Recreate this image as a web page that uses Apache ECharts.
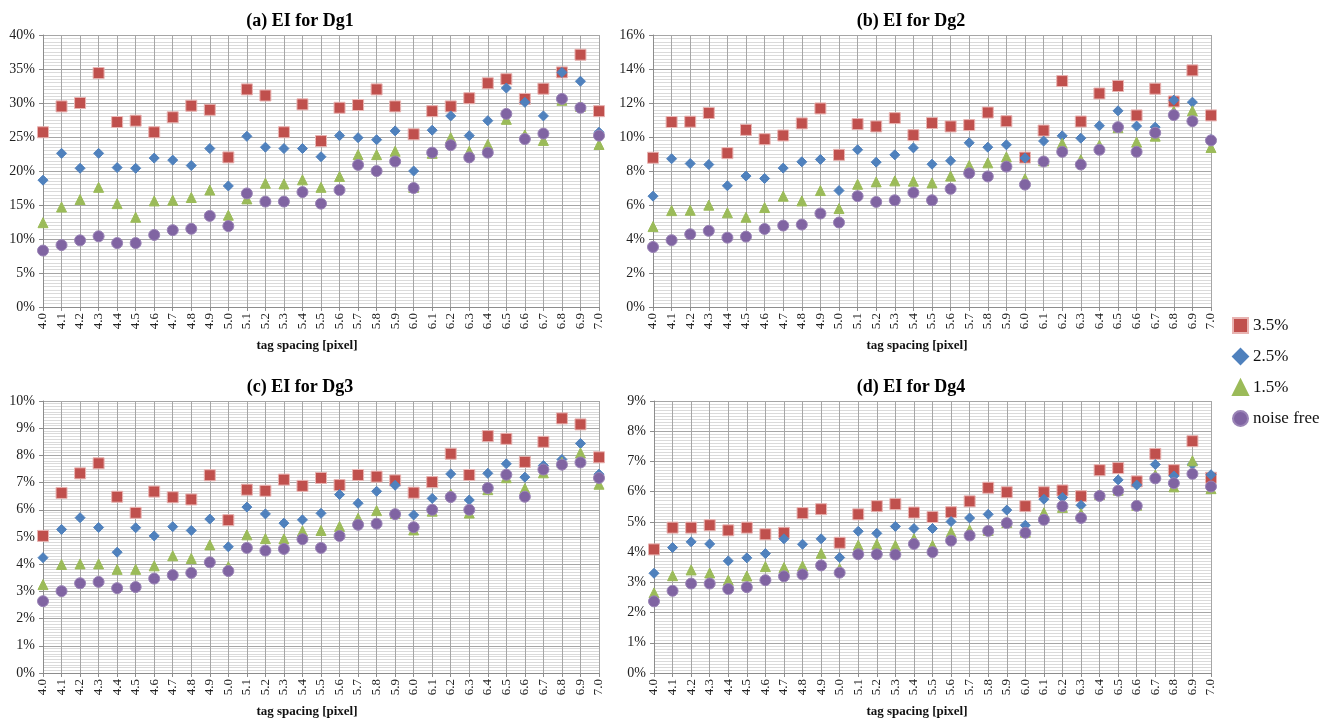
<!DOCTYPE html>
<html>
<head>
<meta charset="utf-8">
<script src="https://cdn.jsdelivr.net/npm/echarts@6/dist/echarts.min.js"></script>
<style>
html,body{margin:0;padding:0;background:#fff;}
#chart{width:1327px;height:720px;}
</style>
</head>
<body>
<div id="chart"></div>
<script>
const categories = ['4.0','4.1','4.2','4.3','4.4','4.5','4.6','4.7','4.8','4.9','5.0','5.1','5.2','5.3','5.4','5.5','5.6','5.7','5.8','5.9','6.0','6.1','6.2','6.3','6.4','6.5','6.6','6.7','6.8','6.9','7.0'];
const seriesNames = ['3.5%','2.5%','1.5%','noise free'];
const panelTitles = ['(a) EI for Dg1','(b) EI for Dg2','(c) EI for Dg3','(d) EI for Dg4'];
const xAxisName = 'tag spacing [pixel]';

// Panel (a) Dg1
const a35 = [25.7,29.5,30.0,34.4,27.2,27.4,25.7,27.9,29.6,29.0,22.0,32.0,31.1,25.7,29.8,24.4,29.3,29.7,32.0,29.5,25.4,28.8,29.5,30.7,32.9,33.5,30.6,32.1,34.5,37.1,28.8];
const a25 = [18.65,22.6,20.4,22.6,20.5,20.4,21.9,21.6,20.8,23.3,17.8,25.1,23.5,23.3,23.3,22.1,25.2,24.9,24.6,25.9,20.0,26.0,28.1,25.2,27.4,32.2,30.1,28.1,34.5,33.2,25.7];
const a15 = [12.4,14.7,15.8,17.6,15.2,13.2,15.6,15.7,16.1,17.2,13.5,15.9,18.2,18.1,18.7,17.6,19.2,22.4,22.4,22.9,17.6,22.6,24.9,22.9,23.9,27.6,25.3,24.5,30.4,29.5,23.9];
const a0 = [8.3,9.1,9.8,10.4,9.4,9.4,10.6,11.3,11.5,13.4,11.9,16.7,15.5,15.5,16.9,15.2,17.2,20.9,20.0,21.4,17.5,22.7,23.8,22.0,22.7,28.4,24.7,25.5,30.6,29.3,25.2];

// Panel (b) Dg2
const b35 = [8.78,10.88,10.9,11.41,9.05,10.42,9.87,10.09,10.8,11.68,8.95,10.76,10.62,11.11,10.11,10.82,10.62,10.7,11.44,10.93,8.79,10.38,13.29,10.91,12.56,13.0,11.27,12.84,12.09,13.92,11.27];
const b25 = [6.52,8.72,8.44,8.38,7.13,7.7,7.56,8.17,8.54,8.68,6.85,9.25,8.52,8.95,9.36,8.4,8.6,9.66,9.4,9.54,8.77,9.76,10.07,9.93,10.66,11.54,10.64,10.58,12.17,12.05,9.85];
const b15 = [4.73,5.67,5.69,5.99,5.54,5.28,5.85,6.52,6.24,6.85,5.79,7.22,7.36,7.42,7.4,7.3,7.7,8.32,8.48,8.83,7.54,8.6,9.62,8.66,9.52,10.55,9.7,10.05,11.52,11.54,9.38];
const b0 = [3.53,3.93,4.28,4.48,4.08,4.14,4.59,4.79,4.85,5.5,4.97,6.52,6.18,6.28,6.73,6.28,6.95,7.87,7.68,8.26,7.2,8.56,9.13,8.38,9.25,10.58,9.13,10.25,11.29,10.93,9.8];

// Panel (c) Dg3
const c35 = [5.04,6.62,7.34,7.71,6.48,5.89,6.67,6.46,6.38,7.27,5.62,6.74,6.70,7.11,6.88,7.17,6.91,7.28,7.22,7.08,6.63,7.02,8.06,7.28,8.71,8.61,7.76,8.50,9.36,9.14,7.93];
const c25 = [4.24,5.28,5.71,5.35,4.44,5.34,5.04,5.38,5.24,5.66,4.64,6.10,5.85,5.51,5.63,5.87,6.56,6.24,6.68,6.90,5.81,6.42,7.32,6.36,7.34,7.69,7.20,7.63,7.85,8.44,7.31];
const c15 = [3.25,3.99,4.01,4.01,3.81,3.81,3.94,4.31,4.21,4.71,3.91,5.08,4.94,4.93,5.22,5.24,5.39,5.69,5.97,5.86,5.26,5.95,6.58,5.88,6.74,7.18,6.78,7.36,7.75,8.09,6.94];
const c0 = [2.64,3.01,3.30,3.35,3.12,3.16,3.47,3.60,3.68,4.07,3.75,4.60,4.50,4.56,4.92,4.60,5.04,5.45,5.49,5.84,5.36,6.00,6.47,6.00,6.80,7.29,6.48,7.48,7.66,7.74,7.17];

// Panel (d) Dg4
const d35 = [4.09,4.81,4.81,4.89,4.72,4.81,4.59,4.64,5.29,5.42,4.31,5.25,5.52,5.59,5.31,5.16,5.32,5.68,6.13,5.98,5.52,5.98,6.04,5.85,6.71,6.78,6.34,7.25,6.71,7.67,6.46];
const d25 = [3.30,4.15,4.34,4.27,3.71,3.81,3.95,4.44,4.26,4.44,3.82,4.69,4.62,4.85,4.78,4.78,5.01,5.13,5.25,5.39,4.89,5.75,5.81,5.55,5.88,6.39,6.22,6.90,6.52,6.91,6.56];
const d15 = [2.65,3.22,3.41,3.31,3.07,3.21,3.52,3.49,3.54,3.96,3.45,4.23,4.26,4.22,4.44,4.22,4.66,4.73,4.72,4.98,4.66,5.30,5.48,5.27,5.90,6.05,5.55,6.55,6.16,7.02,6.10];
const d0 = [2.37,2.72,2.96,2.96,2.78,2.84,3.07,3.20,3.26,3.56,3.32,3.93,3.93,3.92,4.27,4.00,4.38,4.55,4.70,4.96,4.64,5.07,5.52,5.13,5.86,6.03,5.53,6.44,6.28,6.59,6.17];

const yMax = [40, 16, 10, 9];
const yInterval = [5, 2, 1, 1];

const panelData = [[a35,a25,a15,a0],[b35,b25,b15,b0],[c35,c25,c15,c0],[d35,d25,d15,d0]];

const FONT = '"Liberation Serif", "Times New Roman", serif';
const grids = [
  {left:43, top:35, width:556, height:272},
  {left:653, top:35, width:558, height:272},
  {left:43, top:401, width:556, height:272},
  {left:654, top:401, width:557, height:272}
];
const titlePos = [[300,21],[911,21],[300,387],[911,387]];
const namePos = [[307,346],[917,346],[307,712],[917,712]];

const symbolStyles = [
  {symbol:'rect', size:11, color:'#C0504D', border:'#E8B4B2'},
  {symbol:'diamond', size:10, color:'#4F81BD', border:'#4F81BD'},
  {symbol:'triangle', size:10, color:'#9BBB59', border:'#9BBB59'},
  {symbol:'circle', size:11, color:'#8064A2', border:'#9A84B6'}
];

const xAxes = [], yAxes = [], series = [], graphics = [];
for (let p = 0; p < 4; p++) {
  xAxes.push({
    type:'category', gridIndex:p, data:categories, boundaryGap:false,
    axisLine:{lineStyle:{color:'#8c8c8c'}},
    axisTick:{show:true, alignWithLabel:true, length:4, lineStyle:{color:'#8c8c8c'}},
    axisLabel:{rotate:90, interval:0, margin:6, fontFamily:FONT, fontSize:13, color:'#222'},
    splitLine:{show:true, interval:0, lineStyle:{color:'#a6a6a6', width:1}}
  });
  yAxes.push({
    type:'value', gridIndex:p, min:0, max:yMax[p], interval:yInterval[p],
    axisLine:{show:true, lineStyle:{color:'#8c8c8c'}},
    axisTick:{show:true, length:4, lineStyle:{color:'#8c8c8c'}},
    axisLabel:{formatter:'{value}%', fontFamily:FONT, fontSize:14, color:'#222', margin:8},
    splitLine:{show:true, lineStyle:{color:'#a6a6a6', width:1}},
    minorTick:{show:false, splitNumber:10},
    minorSplitLine:{show:true, lineStyle:{color:'#dadada', width:1}}
  });
  for (let s = 0; s < 4; s++) {
    const st = symbolStyles[s];
    series.push({
      name:seriesNames[s], type:'scatter', xAxisIndex:p, yAxisIndex:p,
      symbol:st.symbol, symbolSize:st.size,
      itemStyle:{color:st.color, borderColor:st.border, borderWidth:1, opacity:1},
      emphasis:{disabled:true},
      data:panelData[p][s],
      z: 2 + s
    });
  }
  graphics.push({
    type:'text', x:titlePos[p][0], y:titlePos[p][1],
    style:{text:panelTitles[p], font:'bold 18px ' + FONT, fill:'#000', align:'center', verticalAlign:'middle'}
  });
  graphics.push({
    type:'text', x:namePos[p][0], y:namePos[p][1],
    style:{text:xAxisName, font:'bold 13px ' + FONT, fill:'#111', align:'center', verticalAlign:'middle'}
  });
}

const chart = echarts.init(document.getElementById('chart'), null, {renderer:'canvas'});
chart.setOption({
  backgroundColor:'#fff',
  animation:false,
  grid:grids,
  xAxis:xAxes,
  yAxis:yAxes,
  series:series,
  graphic:graphics,
  legend:{
    orient:'vertical', left:1227, top:312,
    itemWidth:15, itemHeight:15, itemGap:14,
    data:seriesNames,
    textStyle:{fontFamily:FONT, fontSize:17, color:'#111'}
  }
});
</script>
</body>
</html>
